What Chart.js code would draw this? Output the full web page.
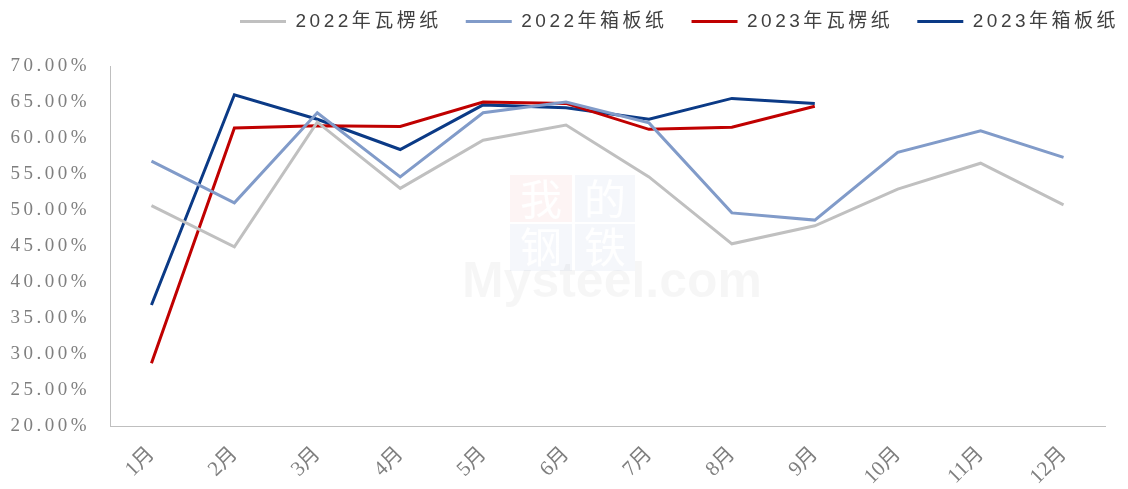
<!DOCTYPE html>
<html>
<head>
<meta charset="utf-8">
<script src="https://cdn.jsdelivr.net/npm/chart.js@4"></script>
<style>
  html, body { margin: 0; padding: 0; background: #fff; }
  #wrap { width: 1128px; height: 489px; }
</style>
</head>
<body>
<div id="wrap"><canvas id="c"></canvas></div>
<script>
// months
var months = ['1月', '2月', '3月', '4月', '5月', '6月', '7月', '8月', '9月', '10月', '11月', '12月'];

// rates, percent
var wa2022 = [50.6, 44.9, 62.2, 53.0, 59.7, 61.8, 54.6, 45.3, 47.8, 52.9, 56.5, 50.7];
var xiang2022 = [56.8, 51.0, 63.5, 54.6, 63.5, 65.0, 62.1, 49.6, 48.6, 58.0, 61.0, 57.3];
var wa2023 = [28.7, 61.4, 61.7, 61.6, 65.0, 64.8, 61.2, 61.5, 64.4];
var xiang2023 = [36.8, 66.0, 62.6, 58.4, 64.6, 64.2, 62.6, 65.5, 64.8];

var seriesNames = ['2022年瓦楞纸', '2022年箱板纸', '2023年瓦楞纸', '2023年箱板纸'];
var colors = ['#c0c0c0', '#819bc9', '#c00000', '#0b3a86'];

// excel export has wide char spacing, canvas state gets reset on resize so set it often
var spacing = {
  id: 'spacing',
  afterInit: function(chart) {
    // legend takes the whole band above the plot
    var fit = chart.legend.fit;
    chart.legend.fit = function() {
      fit.call(this);
      this.height = 66;
    };
  },
  beforeLayout: function(chart) { chart.ctx.letterSpacing = '3.5px'; },
  afterLayout: function(chart) {
    // legend sits higher and further right than chart.js puts it
    chart.legend.top = -12;
    chart.legend.left = 240 - 24;
    chart.legend.right = 1250;
    // month labels are not spaced out
    var x = chart.scales.x;
    if (!x._tight) {
      var drawLabels = x.drawLabels;
      x.drawLabels = function(area) {
        var ctx = this.ctx;
        ctx.letterSpacing = '0px';
        drawLabels.call(this, area);
        ctx.letterSpacing = '3.5px';
      };
      x._tight = true;
    }
  },
  beforeDraw: function(chart) {
    var ctx = chart.ctx;
    // watermark
    ctx.save();
    ctx.textAlign = 'center';
    ctx.textBaseline = 'middle';
    ctx.letterSpacing = '0px';
    ctx.fillStyle = 'rgba(220,60,60,0.06)';
    ctx.fillRect(510, 175, 62, 47);
    ctx.fillStyle = 'rgba(60,90,170,0.05)';
    ctx.fillRect(575, 175, 60, 47);
    ctx.fillRect(510, 224, 62, 47);
    ctx.fillRect(575, 224, 60, 47);
    ctx.fillStyle = 'rgba(255,255,255,0.95)';
    ctx.font = '42px "Noto Sans CJK SC"';
    ctx.fillText('我', 541, 199);
    ctx.fillText('的', 605, 199);
    ctx.fillText('钢', 541, 247);
    ctx.fillText('铁', 605, 247);
    ctx.fillStyle = 'rgba(0,0,0,0.035)';
    ctx.font = 'bold 50px "Liberation Sans"';
    ctx.fillText('Mysteel.com', 612, 283);
    ctx.restore();
    ctx.letterSpacing = '3.5px';
  }
};

new Chart(document.getElementById('c'), {
  type: 'line',
  data: {
    labels: months,
    datasets: [wa2022, xiang2022, wa2023, xiang2023].map(function(vals, i) {
      return {
        label: seriesNames[i],
        data: vals,
        borderColor: colors[i],
        backgroundColor: colors[i],
        borderWidth: 3,
        pointRadius: 0,
        tension: 0,
        fill: false
      };
    })
  },
  options: {
    responsive: true,
    maintainAspectRatio: false,
    animation: false,
    layout: { padding: { left: 0, right: 23, top: 0, bottom: 0 } },
    plugins: {
      tooltip: { enabled: false },
      legend: {
        position: 'top',
        align: 'start',
        labels: {
          boxWidth: 46,
          boxHeight: 3,
          padding: 24,
          color: '#404040',
          font: { family: '"Liberation Sans", "Noto Sans CJK SC"', size: 19 },
          generateLabels: function(chart) {
            return Chart.defaults.plugins.legend.labels.generateLabels(chart).map(function(l) {
              l.lineWidth = 0;
              return l;
            });
          }
        }
      }
    },
    scales: {
      x: {
        offset: true,
        grid: { display: false },
        border: { display: true, color: '#bfbfbf', width: 1 },
        ticks: {
          color: '#7f7f7f',
          minRotation: 45,
          maxRotation: 45,
          padding: 8,
          font: { family: '"Liberation Serif", "Noto Sans CJK SC"', size: 21 }
        },
        afterFit: function(s) { s.height = 63; }
      },
      y: {
        min: 20,
        max: 70,
        grid: { display: false },
        border: { display: true, color: '#bfbfbf', width: 1 },
        ticks: {
          stepSize: 5,
          color: '#7f7f7f',
          padding: 12,
          font: { family: '"Liberation Serif"', size: 19 },
          callback: function(v) { return v.toFixed(2) + '%'; }
        },
        afterFit: function(s) { s.width = 110; }
      }
    }
  },
  plugins: [spacing]
});
</script>
</body>
</html>
